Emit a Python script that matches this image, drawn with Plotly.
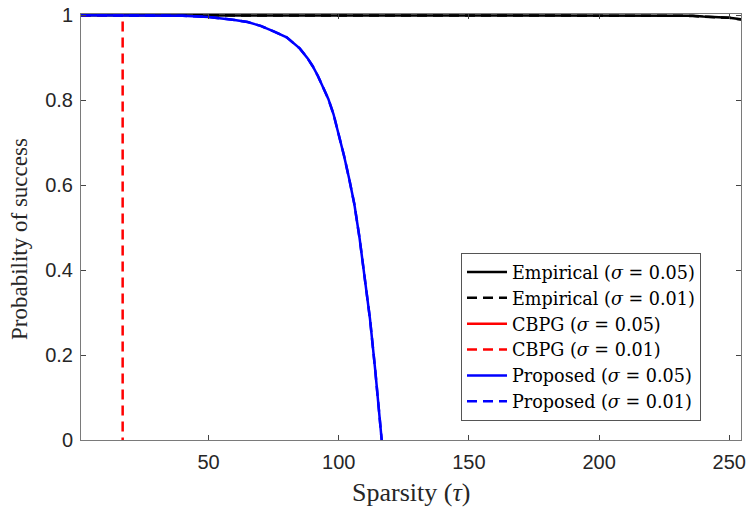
import plotly.graph_objects as go

# ---- data ----
emp05_tau = [1, 50, 100, 150, 200, 230, 236, 240, 245, 250, 253, 255]
emp05_p = [1.0, 1.0, 1.0, 1.0, 1.0, 0.999, 0.999, 0.997, 0.996, 0.994, 0.992, 0.99]
emp01_tau = [1, 50, 100, 150, 200, 230, 236, 240, 245, 250, 253, 255]
emp01_p = [1.0, 1.0, 1.0, 1.0, 1.0, 0.999, 0.998, 0.997, 0.995, 0.994, 0.991, 0.99]

# CBPG at sigma = 0.05 gives no guarantee inside the plotted range
cbpg05_tau = [0, 0]
cbpg05_p = [1.0, 0.0]
cbpg01_tau = [1, 17, 17]
cbpg01_p = [1.0, 1.0, 0.0]

prop_tau = [1, 20, 40, 50, 55, 60, 65, 70, 75, 80, 85, 88, 90, 92, 94, 96, 98, 100,
            102, 104, 106, 108, 110, 112, 114, 115, 116, 117, 118]
prop05_p = [1.0, 1.0, 0.999, 0.996, 0.993, 0.989, 0.984, 0.975, 0.962, 0.948, 0.922,
            0.899, 0.88, 0.857, 0.83, 0.803, 0.767, 0.72, 0.67, 0.615, 0.555, 0.475,
            0.385, 0.285, 0.165, 0.10, 0.035, -0.03, -0.10]
prop01_p = [1.0, 1.0, 0.999, 0.996, 0.993, 0.989, 0.984, 0.975, 0.962, 0.948, 0.922,
            0.899, 0.88, 0.857, 0.83, 0.803, 0.767, 0.72, 0.67, 0.615, 0.555, 0.475,
            0.385, 0.285, 0.165, 0.10, 0.035, -0.03, -0.10]

x_ticks = [50, 100, 150, 200, 250]
y_ticks = [0, 0.2, 0.4, 0.6, 0.8, 1]
y_ticktext = ["0", "0.2", "0.4", "0.6", "0.8", "1"]

serif = "Liberation Serif, Times New Roman, serif"
legend_serif = "DejaVu Serif, serif"
sans = "Liberation Sans, Arial, sans-serif"
ink = "#262626"

fig = go.Figure()
series = [
    ("Empirical (<i>σ</i> = 0.05)", emp05_tau, emp05_p, "black", "solid"),
    ("Empirical (<i>σ</i> = 0.01)", emp01_tau, emp01_p, "black", "10px,6px"),
    ("CBPG (<i>σ</i> = 0.05)", cbpg05_tau, cbpg05_p, "red", "solid"),
    ("CBPG (<i>σ</i> = 0.01)", cbpg01_tau, cbpg01_p, "red", "10px,6px"),
    ("Proposed (<i>σ</i> = 0.05)", prop_tau, prop05_p, "blue", "solid"),
    ("Proposed (<i>σ</i> = 0.01)", prop_tau, prop01_p, "blue", "10px,6px"),
]
for name, xs, ys, col, dash in series:
    fig.add_trace(go.Scatter(x=xs, y=ys, mode="lines", name=name, showlegend=True,
                             line=dict(color=col, width=2.5, dash=dash)))

axis_common = dict(showline=True, linecolor="#7a7a7a", linewidth=1, mirror="ticks",
                   ticks="inside", ticklen=5, tickcolor="#444", showgrid=False,
                   zeroline=False, automargin=False,
                   tickfont=dict(family=sans, size=20, color=ink))

fig.update_layout(
    width=746, height=509,
    margin=dict(l=81, r=5, t=14, b=69),
    paper_bgcolor="white", plot_bgcolor="white",
    xaxis=dict(range=[1, 254.5], tickvals=x_ticks, ticklabelstandoff=4, **axis_common),
    yaxis=dict(range=[0, 1.003], tickvals=y_ticks, ticktext=y_ticktext,
               ticklabelstandoff=3, **axis_common),
    legend=dict(x=0.9394, y=0.439, xanchor="right", yanchor="top",
                bgcolor="white", bordercolor="#555", borderwidth=1,
                font=dict(family=legend_serif, size=17.6, color="black"),
                tracegroupgap=0, itemwidth=40),
    annotations=[
        dict(text="Sparsity (<i>τ</i>)", xref="paper", yref="paper",
             x=(411 - 81) / 660, y=(440 - 492) / 426, xanchor="center", yanchor="middle",
             showarrow=False, font=dict(family=serif, size=26, color=ink)),
        dict(text="Probability of success", xref="paper", yref="paper",
             x=(20 - 81) / 660, y=(440 - 239) / 426, xanchor="center", yanchor="middle",
             textangle=-90,
             showarrow=False, font=dict(family=serif, size=23, color=ink)),
    ],
)

fig.write_html("out.html", config={"displayModeBar": False},
               post_script="document.body.style.margin='0';")
